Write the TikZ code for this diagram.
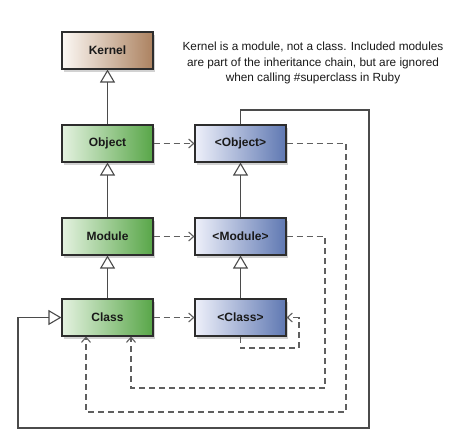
\documentclass[tikz,border=0pt]{standalone}
\usepackage{fontspec}
\setmainfont{Liberation Sans}
\usetikzlibrary{arrows.meta,shadows}
\definecolor{gL}{RGB}{228,242,224}
\definecolor{gR}{RGB}{88,166,72}
\definecolor{bL}{RGB}{238,240,250}
\definecolor{bR}{RGB}{95,120,178}
\definecolor{kL}{RGB}{252,248,244}
\definecolor{kR}{RGB}{172,130,96}
\definecolor{edge}{RGB}{45,45,45}
\definecolor{lineC}{RGB}{75,75,75}
\definecolor{dashC}{RGB}{95,95,95}
\tikzset{
  box/.style={draw=edge, line width=1.1pt, minimum width=91pt, minimum height=37pt,
    inner sep=0pt, font=\fontsize{12}{14}\selectfont\bfseries, text=black!90,
    drop shadow={opacity=0.35, shadow xshift=2pt, shadow yshift=-3pt}},
  grbox/.style={box, left color=gL, right color=gR},
  blbox/.style={box, left color=bL, right color=bR},
  krbox/.style={box, left color=kL, right color=kR},
  inh/.style={draw=lineC, line width=1.1pt, -{Triangle[open, width=15pt, length=13pt, line width=1.1pt]}},
  dep/.style={draw=dashC, line width=1.1pt, dash pattern=on 6pt off 4pt,
    -{Straight Barb[length=5pt, width=9pt, line width=1.1pt]}}
}
\begin{document}
\begin{tikzpicture}[x=1pt, y=-1pt]
\useasboundingbox[fill=white] (0,0) rectangle (462,440);
\node[krbox] (kernel)  at (107.5,50.5)  {Kernel};
\node[grbox] (object)  at (107.5,143.5) {Object};
\node[grbox] (module)  at (107.5,236.5) {Module};
\node[grbox] (class)   at (107.5,317.5) {Class};
\node[blbox] (oobject) at (240.5,143.5) {<Object>};
\node[blbox] (omodule) at (240.5,236.5) {<Module>};
\node[blbox] (oclass)  at (240.5,317.5) {<Class>};
\node[align=center, font=\fontsize{11.8}{15.5}\selectfont, text=black!90] (note) at (313,63)
  {Kernel is a module, not a class. Included modules\\are part of the inheritance chain, but are ignored\\when calling \#superclass in Ruby};

\coordinate (r1) at (369,110);
\coordinate (r2) at (369,428);
\coordinate (l1) at (18,428);
\coordinate (d1) at (346,412);
\coordinate (d1b) at (86,412);
\coordinate (d2) at (325,388);
\coordinate (d2b) at (131,388);
\coordinate (s1) at (299,348);

\draw[inh] (object) -- (kernel);
\draw[inh] (module) -- (object);
\draw[inh] (class) -- (module);
\draw[inh] (omodule) -- (oobject);
\draw[inh] (oclass) -- (omodule);
\draw[inh] (oobject.north) |- (r1) -- (r2) -- (l1) |- (class.west);

\draw[dep] (object) -- (oobject);
\draw[dep] (module) -- (omodule);
\draw[dep] (class) -- (oclass);
\draw[dep] (oobject.east) -| (d1) -- (d1b) -- (d1b |- class.south);
\draw[dep] (omodule.east) -| (d2) -- (d2b) -- (d2b |- class.south);
\draw[dep] (oclass.south) |- (s1) |- (oclass.east);
\end{tikzpicture}
\end{document}
